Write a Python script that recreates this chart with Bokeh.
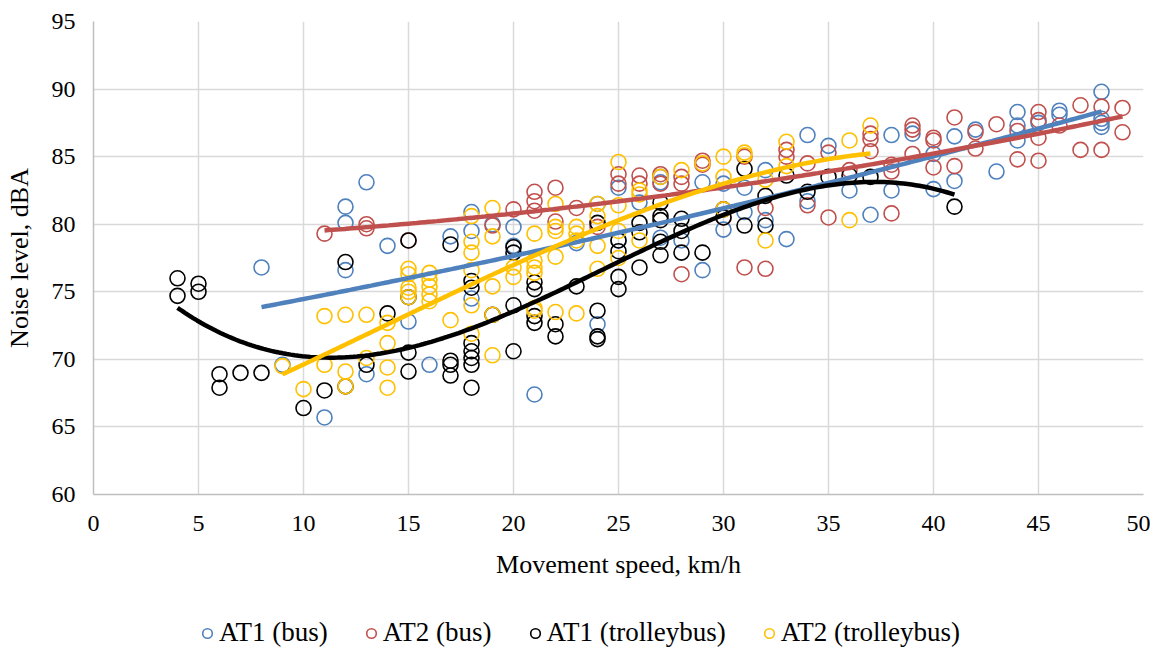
import numpy as np
from bokeh.plotting import figure
from bokeh.layouts import column
from bokeh.models import Legend, LegendItem, FixedTicker, Range1d
from bokeh.embed import file_html
from bokeh.resources import INLINE

# ---- data ----
bus1_x = [8, 9, 11, 12, 12, 12, 13, 13, 14, 15, 16, 17, 18, 18, 18, 19, 20, 20, 21,
          23, 24, 24, 25, 25, 26, 27, 27, 27, 28, 29, 29, 30, 30, 31, 31, 32, 32, 33,
          34, 34, 35, 36, 37, 38, 38, 39, 40, 40, 41, 41, 42, 43, 44, 44, 44, 45, 46,
          46, 48, 48, 48, 48]
bus1_y = [76.8, 69.6, 65.7, 81.3, 80.1, 76.6, 83.1, 68.9, 78.4, 72.8, 69.6, 79.1, 80.9,
          79.5, 74.5, 80.0, 79.8, 78.4, 67.4, 78.6, 81.5, 72.6, 82.7, 78.8, 81.6, 83.5,
          83.1, 79.0, 78.8, 83.1, 76.6, 83.0, 79.6, 82.7, 80.9, 84.0, 80.3, 78.9, 86.6,
          81.7, 85.8, 82.5, 80.7, 86.6, 82.5, 86.7, 85.2, 82.6, 86.5, 83.2, 87.0, 83.9,
          88.3, 87.3, 86.2, 87.5, 88.4, 88.1, 89.8, 87.8, 87.5, 87.2]

bus2_x = [11, 13, 13, 15, 19, 20, 21, 21, 21, 22, 22, 23, 24, 25, 25, 26, 26, 27, 27,
          28, 28, 28, 29, 29, 30, 31, 31, 32, 32, 33, 33, 34, 34, 35, 35, 36, 37, 37,
          37, 38, 38, 38, 39, 39, 39, 40, 40, 40, 41, 41, 42, 42, 43, 44, 44, 45, 45,
          45, 45, 46, 47, 47, 48, 48, 49, 49]
bus2_y = [79.3, 80.0, 79.7, 78.8, 79.9, 81.1, 82.4, 81.7, 81.0, 82.7, 80.2, 81.2, 79.8,
          83.7, 83.0, 83.6, 83.0, 83.7, 83.0, 83.5, 83.0, 76.3, 84.7, 84.4, 80.5, 85.0,
          76.8, 81.2, 76.7, 85.5, 85.0, 84.5, 81.4, 85.3, 80.5, 84.0, 86.7, 86.3, 85.4,
          84.4, 83.9, 80.8, 87.3, 87.0, 85.2, 86.4, 86.2, 84.2, 87.9, 84.3, 86.8, 85.6,
          87.4, 86.9, 84.8, 88.3, 87.7, 86.4, 84.7, 87.3, 88.8, 85.5, 88.7, 85.5, 88.6,
          86.8]

trol1_x = [4, 4, 5, 5, 6, 6, 7, 8, 10, 11, 12, 12, 13, 14, 15, 15, 15, 15, 17, 17, 17,
           17, 18, 18, 18, 18, 18, 18, 18, 19, 20, 20, 20, 20, 21, 21, 21, 21, 22, 22,
           23, 24, 24, 24, 24, 25, 25, 25, 25, 26, 26, 26, 27, 27, 27, 27, 27, 28, 28,
           28, 29, 30, 30, 31, 31, 32, 32, 33, 34, 35, 36, 37, 41]
trol1_y = [76.0, 74.7, 75.6, 75.0, 68.9, 67.9, 69.0, 69.0, 66.4, 67.7, 77.2, 68.0, 69.6,
           73.4, 78.8, 74.6, 70.5, 69.1, 78.5, 69.9, 69.6, 68.8, 75.8, 75.3, 71.2, 70.6,
           70.1, 69.6, 67.9, 73.3, 78.3, 77.9, 74.0, 70.6, 75.7, 75.2, 73.2, 72.7, 72.6,
           71.7, 75.4, 80.1, 73.6, 71.7, 71.5, 78.8, 78.0, 76.1, 75.2, 80.1, 79.4, 76.8,
           81.6, 80.6, 80.3, 78.7, 77.7, 80.4, 79.5, 77.9, 77.9, 81.1, 80.5, 84.1, 79.9,
           82.1, 79.9, 83.6, 82.4, 83.5, 83.6, 83.5, 81.3]

trol2_x = [9, 10, 11, 11, 12, 12, 12, 13, 13, 14, 14, 14, 14, 15, 15, 15, 15, 15, 16,
           16, 16, 16, 16, 17, 18, 18, 18, 18, 18, 18, 19, 19, 19, 19, 19, 20, 20, 21,
           21, 21, 21, 21, 21, 22, 22, 22, 22, 22, 23, 23, 23, 23, 24, 24, 24, 24, 25,
           25, 25, 25, 26, 26, 26, 27, 28, 29, 30, 30, 30, 31, 31, 32, 32, 33, 33, 36,
           36, 37]
trol2_y = [69.5, 67.8, 73.2, 69.6, 73.3, 69.1, 68.0, 73.3, 70.1, 72.7, 71.2, 69.4, 67.9,
           76.7, 76.3, 75.3, 75.0, 74.6, 76.4, 75.9, 75.4, 74.8, 74.3, 72.9, 80.6, 78.7,
           77.9, 76.6, 74.0, 71.9, 81.2, 79.1, 75.4, 73.3, 70.3, 76.8, 76.1, 79.3, 77.3,
           76.8, 76.4, 73.8, 73.6, 81.5, 79.8, 79.5, 77.6, 73.5, 79.8, 79.3, 78.8, 73.4,
           81.5, 80.6, 78.4, 76.7, 84.6, 81.4, 79.5, 77.5, 82.5, 82.2, 78.8, 83.5, 84.0,
           84.5, 85.0, 83.5, 81.1, 85.3, 85.1, 83.3, 78.8, 86.1, 84.3, 86.2, 80.3, 87.3]

labels = ["AT1 (bus)", "AT2 (bus)", "AT1 (trolleybus)", "AT2 (trolleybus)"]
colors = ["#4F81BD", "#C0504D", "#000000", "#FFC000"]
degrees = [2, 2, 3, 3]
x_ticks = [0, 5, 10, 15, 20, 25, 30, 35, 40, 45, 50]
y_ticks = [60, 65, 70, 75, 80, 85, 90, 95]

series = [(bus1_x, bus1_y), (bus2_x, bus2_y), (trol1_x, trol1_y), (trol2_x, trol2_y)]

FONT = "Liberation Serif"

p = figure(width=1150, height=606, output_backend="svg", toolbar_location=None,
           x_range=Range1d(0, 50), y_range=Range1d(60, 95),
           min_border_left=93, min_border_right=7, min_border_top=21,
           min_border_bottom=112)
p.outline_line_color = None
p.background_fill_color = "white"
p.border_fill_color = "white"

for ax in (p.xaxis, p.yaxis):
    ax.axis_line_color = "#BFBFBF"
    ax.axis_line_width = 1.5
    ax.major_tick_line_color = None
    ax.minor_tick_line_color = None
    ax.major_label_text_font = FONT
    ax.major_label_text_font_size = "24px"
    ax.major_label_text_color = "#000000"
    ax.axis_label_text_font = FONT
    ax.axis_label_text_font_size = "26px"
    ax.axis_label_text_font_style = "normal"
    ax.axis_label_text_color = "#000000"

p.xaxis.ticker = FixedTicker(ticks=x_ticks)
p.yaxis.ticker = FixedTicker(ticks=y_ticks)
p.xaxis.axis_label = "Movement speed, km/h"
p.yaxis.axis_label = "Noise level, dBA"
p.xaxis.major_label_standoff = 15
p.yaxis.major_label_standoff = 12
p.xaxis.axis_label_standoff = 16
p.yaxis.axis_label_standoff = 15

p.xgrid.ticker = FixedTicker(ticks=x_ticks)
p.ygrid.ticker = FixedTicker(ticks=y_ticks)
p.grid.grid_line_color = "#D9D9D9"
p.grid.grid_line_width = 1.5

scatter_renderers = []
for (xs, ys), c in zip(series, colors):
    r = p.scatter(xs, ys, size=15, marker="circle", fill_color=None,
                  line_color=c, line_width=1.6)
    scatter_renderers.append(r)

for (xs, ys), c, d in zip(series, colors, degrees):
    coef = np.polyfit(xs, ys, d)
    xx = np.linspace(min(xs), max(xs), 200)
    p.line(xx, np.polyval(coef, xx), line_color=c, line_width=4.5)

# ---- legend strip below the chart (its keys reuse each series' first point, kept out of view) ----
lg = figure(width=1150, height=42, output_backend="svg", toolbar_location=None,
            x_range=Range1d(0, 1), y_range=Range1d(0, 1),
            x_axis_type=None, y_axis_type=None, min_border=0)
lg.outline_line_color = None
lg.grid.visible = False
legend_renderers = []
for (xs, ys), c in zip(series, colors):
    legend_renderers.append(lg.scatter(xs[:1], ys[:1], size=15, marker="circle",
                                       fill_color=None, line_color=c, line_width=1.6))

legend = Legend(items=[LegendItem(label=l, renderers=[r]) for l, r in zip(labels, legend_renderers)],
                orientation="horizontal", location=(102, 0),
                label_text_font=FONT, label_text_font_size="27px",
                label_text_color="#000000",
                glyph_width=24, glyph_height=24, label_standoff=0, spacing=31,
                border_line_color=None, background_fill_alpha=0, padding=0,
                margin=0)
lg.add_layout(legend, "center")

layout = column(p, lg, spacing=0)
open("out.html", "w").write(file_html(layout, INLINE))
